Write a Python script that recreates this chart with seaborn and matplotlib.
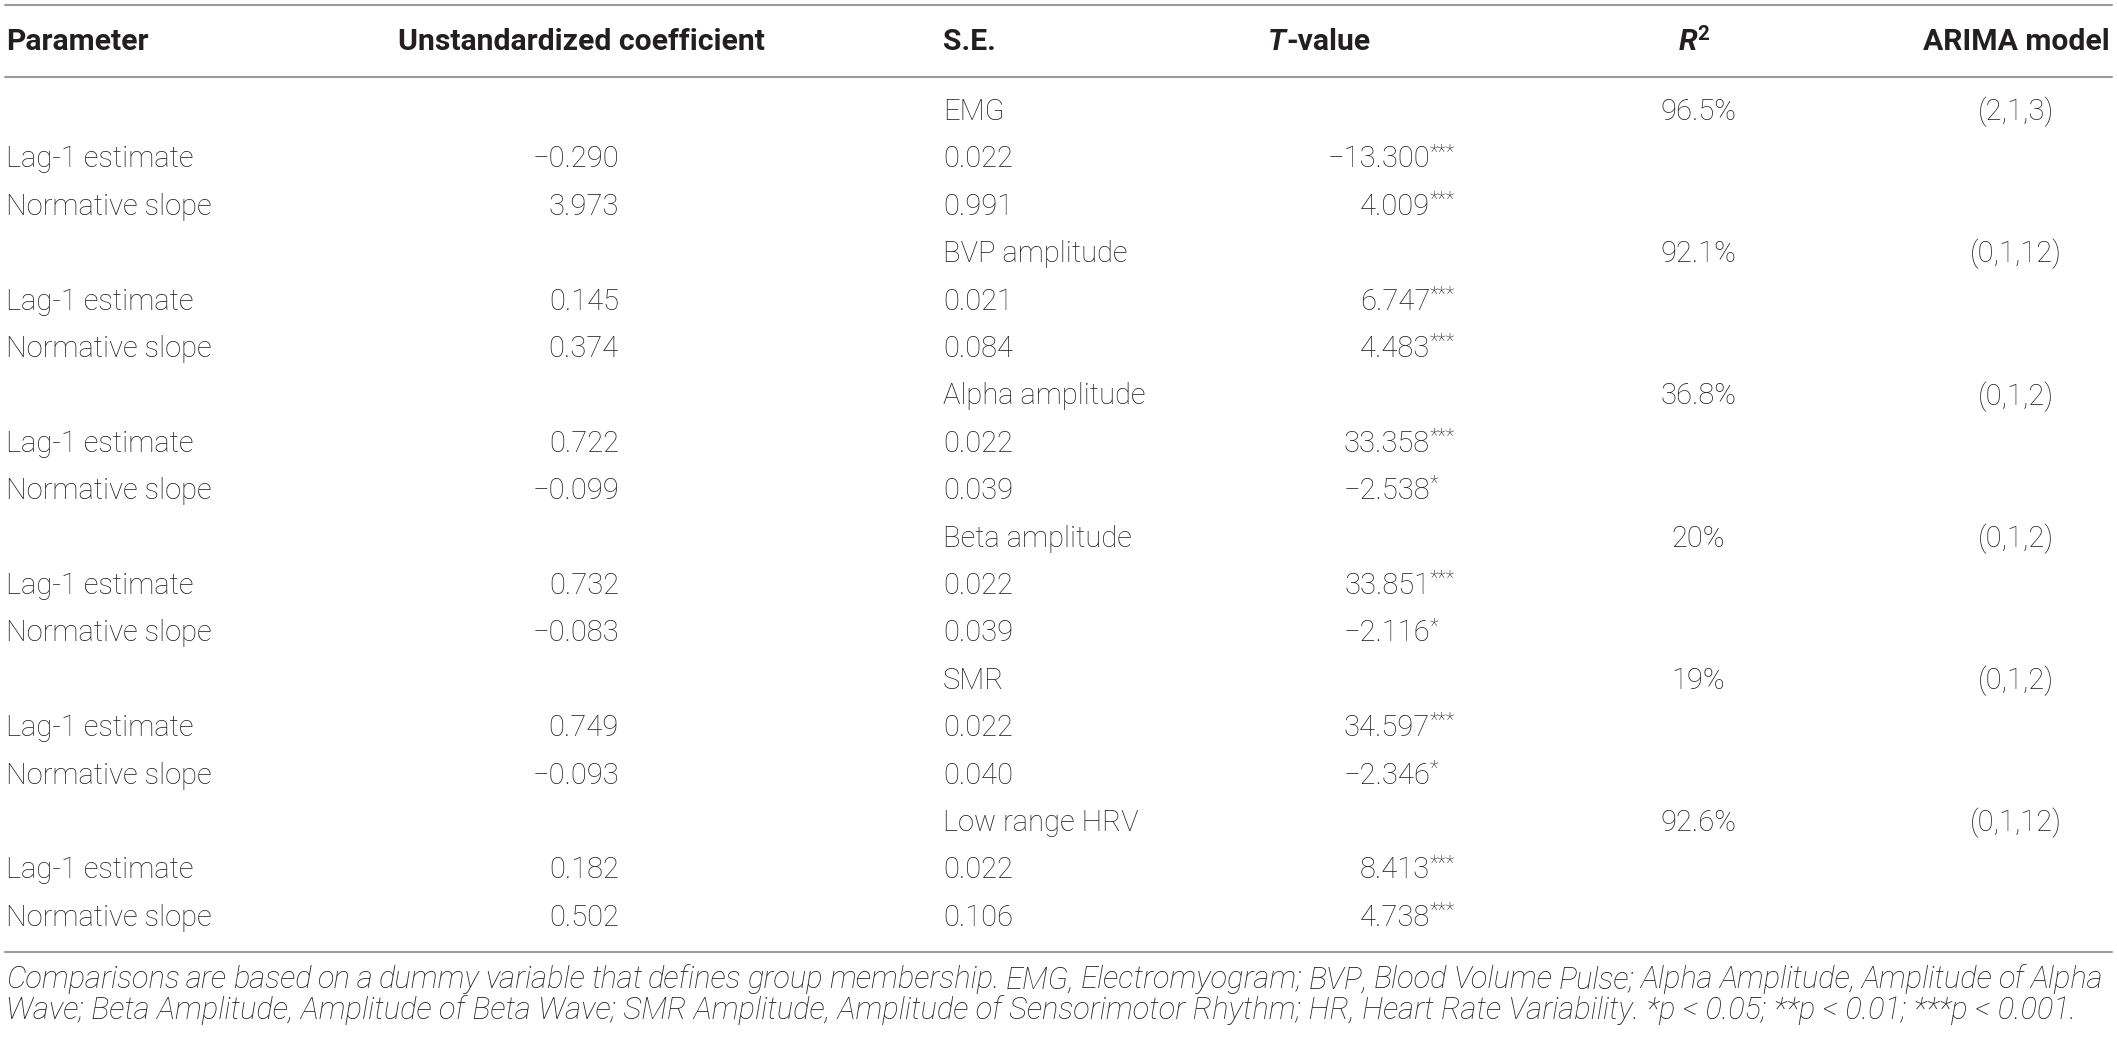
import seaborn as sns
import matplotlib.pyplot as plt
import numpy as np
import pandas as pd

# 数据
signals = ["EMG", "BVP amplitude", "Alpha amplitude", "Beta amplitude", "SMR", "Low range HRV"]
params = ["Lag-1 estimate", "Normative slope"]
r2 = [96.5, 92.1, 36.8, 20, 19, 92.6]
arima = ["(2,1,3)", "(0,1,12)", "(0,1,2)", "(0,1,2)", "(0,1,2)", "(0,1,12)"]
lag_coef = [-0.290, 0.145, 0.722, 0.732, 0.749, 0.182]
lag_se = [0.022, 0.021, 0.022, 0.022, 0.022, 0.022]
lag_t = [-13.300, 6.747, 33.358, 33.851, 34.597, 8.413]
lag_sig = ["***", "***", "***", "***", "***", "***"]
norm_coef = [3.973, 0.374, -0.099, -0.083, -0.093, 0.502]
norm_se = [0.991, 0.084, 0.039, 0.039, 0.040, 0.106]
norm_t = [4.009, 4.483, -2.538, -2.116, -2.346, 4.738]
norm_sig = ["***", "***", "*", "*", "*", "***"]
footnote = ["Comparisons are based on a dummy variable that defines group membership. EMG, Electromyogram; BVP, Blood Volume Pulse; Alpha Amplitude, Amplitude of Alpha",
            "Wave; Beta Amplitude, Amplitude of Beta Wave; SMR Amplitude, Amplitude of Sensorimotor Rhythm; HR, Heart Rate Variability. *p < 0.05; **p < 0.01; ***p < 0.001."]

sns.set_theme(style="white")
plt.rcParams["font.family"] = ["Roboto", "DejaVu Sans"]

rows = []
for i, s in enumerate(signals):
    rows.append(dict(kind="group", name=s, r2=r2[i], arima=arima[i]))
    rows.append(dict(kind="row", name=params[0], coef=lag_coef[i], se=lag_se[i], t=lag_t[i], sig=lag_sig[i]))
    rows.append(dict(kind="row", name=params[1], coef=norm_coef[i], se=norm_se[i], t=norm_t[i], sig=norm_sig[i]))
df = pd.DataFrame(rows)


def fmt(v):
    return f"{v:.3f}".replace("-", "\u2212")


W, H = 2117, 1038
fig = plt.figure(figsize=(W / 100, H / 100), dpi=100)
ax = fig.add_axes([0, 0, 1, 1])
ax.set_xlim(0, W)
ax.set_ylim(H, 0)
ax.axis("off")
renderer = fig.canvas.get_renderer()


# 按参考宽度求字号
def fit_size(s, target, **kw):
    t = ax.text(0, 0, s, fontsize=20, **kw)
    w = t.get_window_extent(renderer).width
    t.remove()
    return 20 * target / w


ink = "#231f20"
fs_body = fit_size("Lag-1 estimate", 188, fontweight="light")
fs_head = fit_size("Unstandardized coefficient", 365, fontweight="bold")
fs_foot = fit_size(footnote[1], 2065, fontweight="light", style="italic")

body = dict(fontsize=fs_body, fontweight="light", color=ink, va="center")
head = dict(fontsize=fs_head, fontweight="bold", color=ink, va="center")
line_kw = dict(color="#9b9b9b", lw=1.5)

# 线
ax.plot([5, 2112], [5, 5], **line_kw)
ax.plot([5, 2112], [77, 77], **line_kw)
ax.plot([5, 2112], [952, 952], **line_kw)

# 表头
hy = 42
ax.text(6, hy, "Parameter", ha="left", **head)
ax.text(398, hy, "Unstandardized coefficient", ha="left", **head)
ax.text(943, hy, "S.E.", ha="left", **head)
tt = ax.text(1268, hy, "T", ha="left", style="italic", **head)
ax.annotate("-value", xy=(1, 0), xycoords=tt, ha="left", va="bottom",
            fontsize=fs_head, fontweight="bold", color=ink)
rr = ax.text(1697, hy, "R", ha="right", style="italic", **head)
ax.annotate("2", xy=(1, 0.42), xycoords=rr, ha="left", va="bottom",
            fontsize=fs_head * 0.68, fontweight="bold", color=ink)
ax.text(2016, hy, "ARIMA model", ha="center", **head)

# 表体
y0, dy = 112, 47.4
for i, r in df.iterrows():
    y = y0 + i * dy
    if r["kind"] == "group":
        ax.text(943, y, r["name"], ha="left", **body)
        ax.text(1698, y, f"{r['r2']:g}%", ha="center", **body)
        ax.text(2016, y, r["arima"], ha="center", **body)
    else:
        ax.text(6, y, r["name"], ha="left", **body)
        ax.text(619, y, fmt(r["coef"]), ha="right", **body)
        ax.text(943, y, fmt(r["se"]), ha="left", **body)
        tv = ax.text(1430, y, fmt(r["t"]), ha="right", **body)
        ax.annotate(r["sig"], xy=(1, 0.42), xycoords=tv, ha="left", va="bottom",
                    fontsize=fs_body * 0.68, fontweight="light", color=ink)

# 脚注（第一行两端对齐）
foot = dict(fontsize=fs_foot, style="italic", fontweight="light", color=ink, va="center")
words = footnote[0].split(" ")
txts = [ax.text(0, 980, w, ha="left", **foot) for w in words]
widths = [t.get_window_extent(renderer).width for t in txts]
gap = (2103 - 6 - sum(widths)) / (len(words) - 1)
x = 6
for t, w in zip(txts, widths):
    t.set_x(x)
    x += w + gap
ax.text(6, 1010, footnote[1], ha="left", **foot)

fig.savefig("out.png", dpi=100)
